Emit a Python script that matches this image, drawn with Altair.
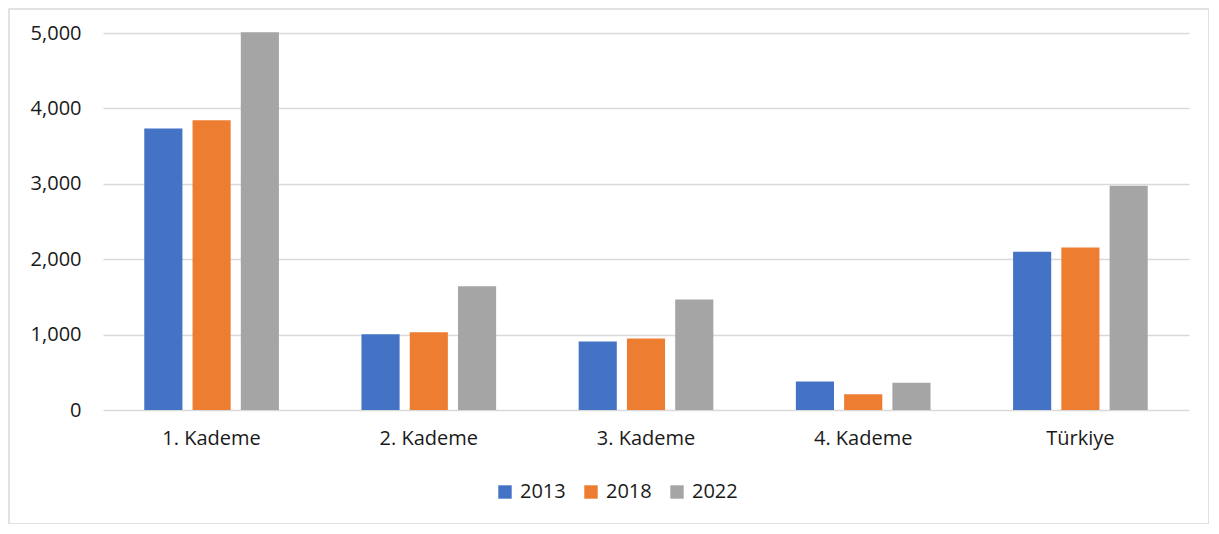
import altair as alt
import pandas as pd

categories = ["1. Kademe", "2. Kademe", "3. Kademe", "4. Kademe", "Türkiye"]
years = ["2013", "2018", "2022"]
v2013 = [3735, 1005, 910, 378, 2100]
v2018 = [3842, 1032, 947, 210, 2155]
v2022 = [5010, 1640, 1465, 360, 2973]
colors = ["#4472C4", "#ED7D31", "#A5A5A5"]

rows = []
for i, c in enumerate(categories):
    for y, vals in zip(years, [v2013, v2018, v2022]):
        rows.append({"cat": c, "year": y, "value": vals[i]})
df = pd.DataFrame(rows)

FONT = "Open Sans"
FS = 20
TXT = "#1a1a1a"

bars = alt.Chart(df).mark_bar().encode(
    x=alt.X("cat:N", sort=categories, title=None,
            scale=alt.Scale(paddingInner=0.38, paddingOuter=0.19),
            axis=alt.Axis(labelAngle=0, ticks=False, domain=False, labelPadding=18,
                          labelFontSize=FS, labelFont=FONT, labelColor=TXT)),
    xOffset=alt.XOffset("year:N", sort=years, scale=alt.Scale(paddingInner=0.21)),
    y=alt.Y("value:Q", title=None,
            scale=alt.Scale(domain=[0, 5000], nice=False),
            axis=alt.Axis(values=[0, 1000, 2000, 3000, 4000, 5000], format=",.0f",
                          ticks=False, domain=False, labelPadding=22,
                          labelFontSize=FS, labelFont=FONT, labelColor=TXT,
                          gridColor="#d9d9d9", gridWidth=1.5)),
    color=alt.Color("year:N", sort=years,
                    scale=alt.Scale(domain=years, range=colors),
                    legend=alt.Legend(title=None, orient="none", direction="horizontal",
                                      legendX=392, legendY=449,
                                      symbolType="square", symbolSize=180,
                                      symbolStrokeWidth=0,
                                      labelFontSize=FS, labelFont=FONT,
                                      labelColor=TXT, columnPadding=15,
                                      labelOffset=5)),
)

border = alt.Chart(pd.DataFrame({"a": [0]})).mark_rect(
    fill=None, stroke="#d9d9d9", strokeWidth=1.5, clip=False
).encode(x=alt.value(-94), x2=alt.value(1106), y=alt.value(-24), y2=alt.value(491))

chart = alt.layer(border, bars).properties(
    width=1086, height=377,
    padding={"left": 95, "top": 25, "right": 20, "bottom": 114},
    autosize=alt.AutoSizeParams(type="none"),
).configure_view(stroke=None)

chart.save("out.html", embed_options={"renderer": "svg", "actions": False})
